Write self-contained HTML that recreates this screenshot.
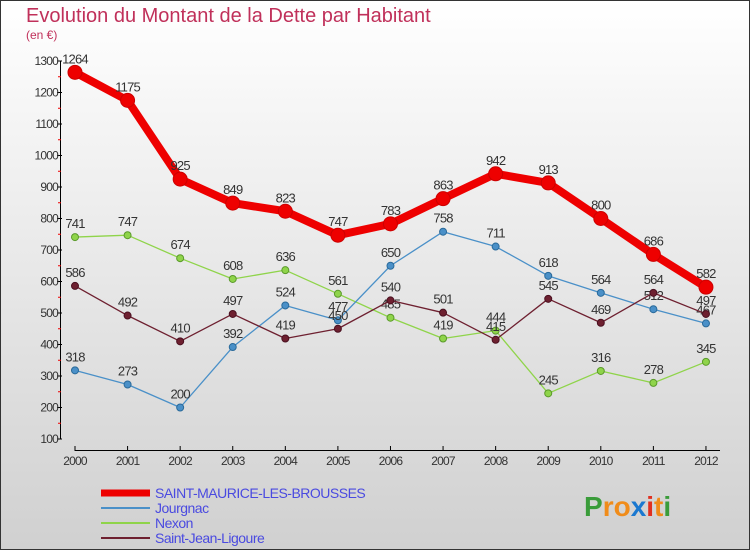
<!DOCTYPE html>
<html><head><meta charset="utf-8"><style>
body{margin:0;}
svg{display:block;font-family:"Liberation Sans",sans-serif;}
</style></head><body>
<svg id="c" width="750" height="550" viewBox="0 0 750 550">
<defs><linearGradient id="bg" x1="0" y1="0" x2="0" y2="1"><stop offset="0" stop-color="#ffffff"/><stop offset="1" stop-color="#d0d0d0"/></linearGradient></defs>
<rect x="0.5" y="0.5" width="749" height="549" fill="url(#bg)" stroke="#333"/>
<text x="26" y="22" font-size="20" fill="#c0305a">Evolution du Montant de la Dette par Habitant</text>
<text x="26" y="39" font-size="12" fill="#c0305a">(en €)</text>
<g id="axes"></g><g id="series"></g>
<g id="legend"></g>
<text x="584" y="516" font-size="28" font-weight="bold"><tspan fill="#3a9c3a">P</tspan><tspan fill="#f08c1a">ro</tspan><tspan fill="#1a78d0">x</tspan><tspan fill="#e03020">i</tspan><tspan fill="#f08c1a">t</tspan><tspan fill="#3a9c3a">i</tspan></text>
</svg>
<script>
const years=[2000,2001,2002,2003,2004,2005,2006,2007,2008,2009,2010,2011,2012];
const yTicks=[100,200,300,400,500,600,700,800,900,1000,1100,1200,1300];
const saint=[1264,1175,925,849,823,747,783,863,942,913,800,686,582];
const jourgnac=[318,273,200,392,524,477,650,758,711,618,564,512,467];
const nexon=[741,747,674,608,636,561,485,419,444,245,316,278,345];
const sjl=[586,492,410,497,419,450,540,501,415,545,469,564,497];
const NS="http://www.w3.org/2000/svg";
const X=i=>75+i*52.58, Y=v=>439-(v-100)*0.315;
function mk(t,a,p){const e=document.createElementNS(NS,t);for(const k in a)e.setAttribute(k,a[k]);p.appendChild(e);return e;}
const ax=document.getElementById('axes');
const yl=mk('line',{x1:60.5,y1:Y(1300),x2:60.5,y2:Y(100),stroke:'#000'},ax);


const xl=mk('line',{x1:75,y1:450.5,x2:720,y2:450.5,stroke:'#000'},ax);


yTicks.forEach(v=>{mk('line',{x1:57,y1:Y(v),x2:62,y2:Y(v),stroke:'#000'},ax);
 if(v<1300)mk('line',{x1:58,y1:Y(v+50),x2:61,y2:Y(v+50),stroke:'#e00'},ax);
 const t=mk('text',{x:58,y:Y(v)+4,'font-size':12,'text-anchor':'end',fill:'#333','letter-spacing':'-0.8'},ax);t.textContent=v;
 
 });
years.forEach((y,i)=>{mk('line',{x1:X(i),y1:446,x2:X(i),y2:451,stroke:'#000'},ax);
 const t=mk('text',{x:X(i),y:465,'font-size':12,'text-anchor':'middle',fill:'#333','letter-spacing':'-0.8'},ax);t.textContent=y;
 
 });
const sg=document.getElementById('series');
function draw(vals,color,w,r,name,stroke){
 const g=mk('g',{},sg);
 
 
 mk('polyline',{points:vals.map((v,i)=>X(i)+','+Y(v)).join(' '),fill:'none',stroke:color,'stroke-width':w,'stroke-linejoin':'round'},g);
 vals.forEach((v,i)=>{const c=mk('circle',{cx:X(i),cy:Y(v),r:r,fill:color,stroke:stroke,'stroke-width':1},g);
  
  
  const t=mk('text',{x:X(i),y:Y(v)-9,'font-size':13,'text-anchor':'middle',fill:'#333','letter-spacing':'-0.8'},g);t.textContent=v;
  
  });
}
draw(nexon,'#8fd44a',1.3,3.5,'nexon-series','#5a9a2a');
draw(jourgnac,'#4a90c8',1.3,3.5,'jourgnac-series','#2a6a9a');
draw(sjl,'#6e2030',1.3,3.5,'saint-jean-ligoure-series','#4a1020');
draw(saint,'#ee0000',8,7,'saint-maurice-series','#cc0000');
const lg=document.getElementById('legend');
[['SAINT-MAURICE-LES-BROUSSES','#ee0000',7],['Jourgnac','#4a90c8',2],['Nexon','#8fd44a',2],['Saint-Jean-Ligoure','#6e2030',2]].forEach((d,i)=>{
 const y=493+i*15;
 const l=mk('line',{x1:101,y1:y,x2:150,y2:y,stroke:d[1],'stroke-width':d[2]},lg);
 
 
 const t=mk('text',{x:155,y:y+5,'font-size':14,fill:'#4a4ae0','letter-spacing':'-0.5'},lg);t.textContent=d[0];
 
 
});
</script>
</body></html>
